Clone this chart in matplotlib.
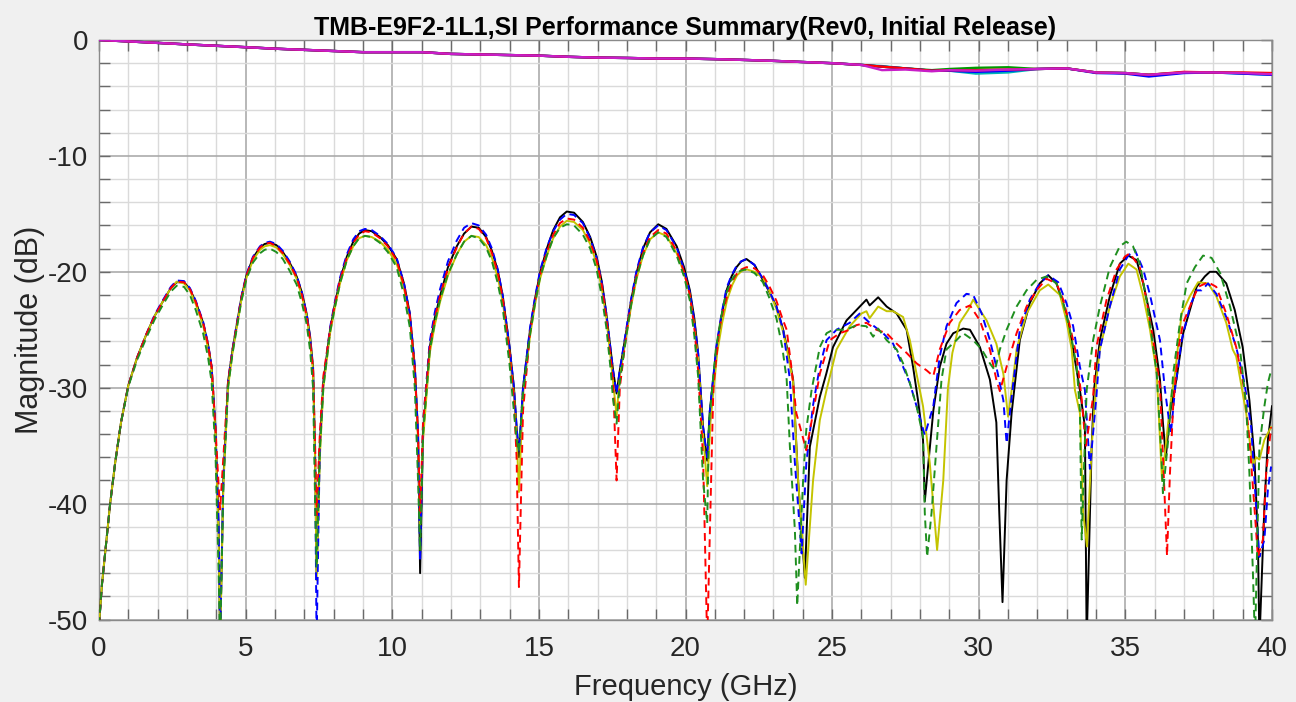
"""S-parameter summary plot: insertion loss and return loss vs frequency."""

import matplotlib as mpl

mpl.use("Agg")
import matplotlib.pyplot as plt
from matplotlib.ticker import MultipleLocator

plt.rcParams["font.family"] = ["Liberation Sans", "DejaVu Sans"]
plt.rcParams["axes.unicode_minus"] = False

TITLE = "TMB-E9F2-1L1,SI Performance Summary(Rev0, Initial Release)"

# ---- insertion loss (near 0 dB) ----
FREQ_IL = [0, 1, 2, 3, 4, 5, 6, 7, 8, 9, 10, 11, 12, 13, 14, 15, 16, 17, 18, 19, 20,
           21, 22, 23, 24, 25, 26, 26.7, 27.5, 28.4, 29, 29.9, 31, 32, 33, 34, 35,
           35.8, 37, 38, 39, 40]
IL_TEAL = [0, -0.12, -0.25, -0.38, -0.5, -0.62, -0.75, -0.85, -0.95, -1.05, -1.05, -1.05,
           -1.2, -1.25, -1.3, -1.35, -1.45, -1.52, -1.55, -1.6, -1.6, -1.65, -1.72, -1.8,
           -1.9, -2.0, -2.15, -2.25, -2.45, -2.65, -2.65, -2.9, -2.8, -2.5, -2.45, -2.8,
           -2.85, -3.0, -2.8, -2.8, -2.9, -3.0]
IL_GREEN = [0, -0.12, -0.25, -0.38, -0.5, -0.62, -0.75, -0.85, -0.95, -1.05, -1.05, -1.05,
            -1.2, -1.25, -1.3, -1.35, -1.45, -1.52, -1.55, -1.6, -1.6, -1.65, -1.72, -1.8,
            -1.9, -2.0, -2.15, -2.3, -2.45, -2.6, -2.5, -2.4, -2.35, -2.5, -2.45, -2.8,
            -2.85, -3.0, -2.8, -2.8, -2.85, -2.9]
IL_BLUE = [0, -0.12, -0.25, -0.38, -0.5, -0.62, -0.75, -0.85, -0.95, -1.05, -1.05, -1.05,
           -1.2, -1.25, -1.3, -1.35, -1.45, -1.52, -1.55, -1.6, -1.6, -1.65, -1.72, -1.8,
           -1.9, -2.0, -2.15, -2.3, -2.45, -2.65, -2.65, -2.75, -2.65, -2.5, -2.45, -2.85,
           -2.9, -3.15, -2.85, -2.8, -2.9, -3.0]
IL_RED = [0, -0.12, -0.25, -0.38, -0.5, -0.62, -0.75, -0.85, -0.95, -1.05, -1.05, -1.05,
          -1.2, -1.25, -1.3, -1.35, -1.45, -1.52, -1.55, -1.6, -1.6, -1.65, -1.72, -1.8,
          -1.9, -2.0, -2.15, -2.3, -2.45, -2.65, -2.6, -2.6, -2.55, -2.5, -2.45, -2.8,
          -2.85, -3.0, -2.75, -2.8, -2.8, -2.85]
IL_MAGENTA = [0, -0.12, -0.25, -0.38, -0.5, -0.62, -0.75, -0.85, -0.95, -1.05, -1.05, -1.05,
              -1.2, -1.25, -1.3, -1.35, -1.45, -1.52, -1.55, -1.6, -1.6, -1.65, -1.72, -1.8,
              -1.9, -2.0, -2.15, -2.6, -2.55, -2.7, -2.6, -2.65, -2.55, -2.5, -2.45, -2.8,
              -2.85, -3.0, -2.8, -2.8, -2.85, -2.95]

# ---- return loss, lobes 1-6 share one frequency list ----
FREQ_LO = [0.0, 0.1, 0.2, 0.38, 0.55, 0.75, 1.0, 1.3, 1.63, 1.9, 2.19, 2.45, 2.65, 2.9, 3.1,
           3.3, 3.55, 3.72, 3.84, 3.97, 4.08, 4.13,
           4.24, 4.4, 4.55, 4.69, 4.85, 5.03, 5.25, 5.49, 5.65, 5.83, 6.05, 6.27, 6.5, 6.74,
           6.92, 7.08, 7.2, 7.3, 7.37, 7.42,
           7.53, 7.65, 7.88, 8.05, 8.22, 8.45, 8.67, 8.87, 9.07, 9.3, 9.58, 9.85, 10.15, 10.4,
           10.6, 10.77, 10.88, 10.95,
           11.05, 11.28, 11.45, 11.63, 11.9, 12.2, 12.45, 12.7, 12.95, 13.2, 13.4, 13.6, 13.77,
           14.0, 14.15, 14.24, 14.32,
           14.46, 14.7, 14.87, 15.04, 15.27, 15.49, 15.72, 15.95, 16.2, 16.5, 16.75, 16.97, 17.15,
           17.3, 17.45, 17.53, 17.65,
           17.76, 17.99, 18.15, 18.33, 18.55, 18.79, 19.07, 19.35, 19.7, 19.95, 20.15, 20.3, 20.43,
           20.6, 20.74]
RL_BLACK_LO = [-50.5, -47.0, -44.5, -40.0, -36.5, -33.0, -29.8, -27.4, -25.3, -23.8, -22.5, -21.4, -20.9, -20.9, -21.5,
               -22.6, -24.4, -26.3, -28.2, -33.4, -42.0, -52.0,
               -38.0, -29.5, -26.8, -24.7, -22.3, -20.3, -18.8, -17.9, -17.6, -17.5, -17.7, -18.3, -19.2, -20.4,
               -21.8, -23.6, -25.6, -28.2, -36.0, -46.0,
               -35.0, -29.5, -25.0, -22.7, -20.7, -18.7, -17.4, -16.7, -16.4, -16.5, -17.0, -17.7, -18.9, -21.0,
               -23.6, -28.2, -34.0, -46.0,
               -34.0, -26.5, -24.0, -22.1, -19.6, -17.8, -16.7, -16.1, -16.2, -17.0, -18.2, -19.9, -22.1,
               -26.5, -30.0, -33.4, -36.0,
               -30.0, -25.0, -22.3, -20.1, -18.0, -16.4, -15.3, -14.8, -14.9, -15.7, -17.0, -18.7, -20.9,
               -23.6, -26.8, -28.5, -30.5,
               -28.5, -25.0, -22.4, -20.1, -18.0, -16.6, -15.9, -16.3, -17.8, -19.6, -21.6, -24.0, -27.0,
               -33.4, -36.3]
RL_BLUE_LO = [-50.5, -47.0, -44.5, -40.0, -36.5, -33.0, -29.8, -27.4, -25.3, -23.7, -22.4, -21.3, -20.75, -20.8, -21.4,
              -22.5, -24.3, -26.2, -28.2, -33.4, -42.0, -52.0,
              -38.0, -29.5, -26.7, -24.6, -22.2, -20.2, -18.7, -17.8, -17.5, -17.4, -17.6, -18.2, -19.1, -20.3,
              -21.8, -23.6, -25.7, -28.5, -37.0, -52.0,
              -35.0, -29.5, -24.8, -22.5, -20.5, -18.5, -17.2, -16.5, -16.3, -16.4, -16.9, -17.6, -18.8, -21.0,
              -23.6, -28.2, -34.0, -45.0,
              -33.0, -26.0, -23.5, -21.5, -19.1, -17.3, -16.2, -15.8, -16.0, -16.8, -18.0, -19.8, -22.1,
              -26.5, -30.0, -33.4, -35.5,
              -30.0, -24.8, -22.2, -19.9, -17.9, -16.5, -15.5, -15.0, -15.1, -15.8, -17.1, -18.8, -21.0,
              -23.6, -26.8, -28.5, -30.5,
              -28.5, -24.8, -22.3, -19.9, -17.9, -16.6, -16.0, -16.4, -17.9, -19.8, -21.8, -24.2, -27.0,
              -33.4, -36.0]
RL_RED_LO = [-50.5, -47.0, -44.5, -40.0, -36.5, -33.0, -29.8, -27.4, -25.3, -23.8, -22.5, -21.4, -20.85, -20.9, -21.5,
             -22.6, -24.4, -26.3, -28.2, -33.4, -38.5, -40.5,
             -36.0, -29.5, -26.8, -24.7, -22.3, -20.3, -18.8, -17.9, -17.6, -17.5, -17.8, -18.4, -19.3, -20.5,
             -22.0, -23.8, -25.9, -28.5, -35.0, -41.0,
             -34.0, -29.0, -25.0, -22.7, -20.7, -18.8, -17.5, -16.8, -16.5, -16.6, -17.1, -17.8, -19.0, -21.2,
             -23.8, -28.5, -34.0, -40.8,
             -33.0, -26.5, -24.0, -22.1, -19.7, -17.9, -16.7, -16.1, -16.3, -17.1, -18.4, -20.1, -22.3,
             -27.0, -31.0, -36.0, -47.2,
             -32.0, -25.2, -22.5, -20.3, -18.3, -16.8, -15.8, -15.4, -15.5, -16.2, -17.4, -19.0, -21.2,
             -24.0, -27.5, -29.5, -38.0,
             -30.0, -25.2, -22.6, -20.3, -18.4, -17.0, -16.4, -16.7, -18.2, -20.0, -22.0, -24.8, -28.5,
             -36.0, -52.0]
RL_YELLOW_LO = [-50.5, -47.0, -44.5, -40.0, -36.5, -33.0, -29.8, -27.4, -25.3, -23.8, -22.5, -21.4, -20.85, -21.0, -21.6,
                -22.8, -24.6, -26.6, -28.5, -33.8, -43.0, -52.0,
                -38.5, -30.0, -27.0, -24.9, -22.5, -20.5, -19.0, -18.1, -17.8, -17.7, -17.9, -18.5, -19.4, -20.6,
                -22.1, -23.8, -25.9, -28.5, -36.5, -46.6,
                -36.0, -30.0, -25.3, -23.0, -21.0, -19.0, -17.8, -17.1, -16.9, -17.0, -17.4, -18.1, -19.3, -21.4,
                -24.0, -28.6, -34.5, -42.0,
                -34.5, -27.0, -24.6, -22.6, -20.3, -18.5, -17.4, -16.9, -17.0, -17.7, -18.8, -20.5, -22.6,
                -27.0, -30.5, -34.0, -39.0,
                -30.5, -25.5, -22.8, -20.6, -18.6, -17.1, -16.1, -15.6, -15.7, -16.4, -17.6, -19.3, -21.5,
                -24.0, -27.5, -29.5, -32.4,
                -29.0, -25.4, -22.9, -20.6, -18.6, -17.2, -16.6, -16.9, -18.4, -20.1, -22.0, -24.6, -27.5,
                -34.0, -38.5]
RL_GREEN_LO = [-50.5, -47.0, -44.5, -40.0, -36.5, -33.0, -29.9, -27.6, -25.6, -24.1, -22.8, -21.7, -21.2, -21.3, -22.0,
               -23.3, -25.3, -27.4, -29.5, -35.5, -46.0, -52.0,
               -38.5, -30.0, -27.1, -25.0, -22.6, -20.6, -19.2, -18.4, -18.1, -18.0, -18.3, -18.9, -19.9, -21.1,
               -22.7, -24.5, -26.8, -30.0, -40.0, -45.5,
               -35.5, -30.0, -25.2, -23.0, -21.0, -19.0, -17.8, -17.1, -16.9, -17.0, -17.5, -18.3, -19.6, -22.0,
               -24.8, -30.0, -38.0, -44.0,
               -34.0, -26.8, -24.4, -22.4, -20.2, -18.5, -17.4, -16.9, -17.1, -17.9, -19.1, -21.0, -23.2,
               -28.0, -32.0, -34.5, -35.5,
               -30.5, -25.4, -22.7, -20.5, -18.6, -17.1, -16.2, -15.9, -16.0, -16.8, -18.0, -19.8, -22.2,
               -24.8, -28.5, -31.0, -33.1,
               -29.5, -25.4, -22.8, -20.5, -18.6, -17.2, -16.6, -17.0, -18.6, -20.4, -22.5, -25.5, -29.0,
               -38.0, -41.7]

# ---- return loss above ~20.8 GHz, each trace read separately ----
FREQ_BLACK_HI = [20.83, 21.06, 21.23, 21.4, 21.57, 21.74, 21.9, 22.08, 22.35, 22.64, 22.85, 23.1, 23.33, 23.5,
                 23.67, 23.84, 24.07,
                 24.24, 24.58, 24.8, 25.03, 25.49, 25.83, 26.17, 26.28, 26.57, 26.86, 27.2, 27.54, 27.76, 27.93, 28.1, 28.16,
                 28.45, 28.67, 28.9, 29.13, 29.47, 29.7, 30.04, 30.38, 30.6, 30.7, 30.81, 30.95, 31.12,
                 31.4, 31.74, 32.08, 32.37, 32.65, 32.99, 33.22, 33.45, 33.62, 33.68, 33.85,
                 33.93, 34.13, 34.47, 34.81, 35.1, 35.38, 35.61, 35.95, 36.18, 36.28, 36.38,
                 36.52, 36.74, 36.97, 37.2, 37.43, 37.71, 37.88, 38.1, 38.44, 38.73, 39.0, 39.23, 39.4, 39.52, 39.57,
                 39.74, 39.86, 40.0]
RL_BLACK_HI = [-32.0, -26.5, -23.8, -21.6, -20.4, -19.6, -19.1, -18.9, -19.4, -20.7, -21.7, -23.0, -25.0, -27.0,
               -29.3, -38.0, -46.4,
               -35.1, -30.8, -28.8, -26.5, -24.2, -23.3, -22.4, -22.9, -22.2, -23.0, -23.6, -25.0, -28.2, -31.1, -34.5, -39.8,
               -32.0, -28.2, -26.2, -25.3, -24.9, -25.0, -26.5, -29.3, -33.0, -40.8, -48.5, -38.0, -32.2,
               -25.9, -22.7, -21.0, -20.3, -21.0, -23.6, -26.7, -30.2, -33.4, -52.0, -35.1,
               -30.2, -25.9, -22.1, -19.3, -18.6, -19.0, -21.0, -25.0, -29.3, -33.0, -36.0,
               -32.2, -29.3, -25.3, -23.3, -21.3, -20.4, -20.0, -20.0, -21.0, -23.3, -26.5, -31.1, -36.0, -43.1, -52.0,
               -40.3, -34.5, -31.6]

FREQ_BLUE_HI = [20.83, 21.06, 21.23, 21.4, 21.57, 21.74, 21.9, 22.08, 22.35, 22.64, 22.85, 23.1, 23.33, 23.56,
                23.73, 23.96,
                24.12, 24.35, 24.58, 24.81, 25.15, 25.6, 25.94, 26.28, 26.74, 27.08, 27.42, 27.65, 27.88, 28.16,
                28.45, 28.67, 28.9, 29.24, 29.58, 29.81, 30.1, 30.38, 30.6, 30.84, 30.95,
                31.12, 31.4, 31.74, 32.08, 32.37, 32.71, 32.99, 33.22, 33.45, 33.62, 33.79,
                34.01, 34.13, 34.47, 34.81, 35.1, 35.32, 35.61, 35.84, 36.18, 36.35, 36.55,
                36.69, 36.92, 37.2, 37.43, 37.6, 37.82, 38.1, 38.44, 38.78, 39.06, 39.29, 39.46, 39.57,
                39.74, 39.86, 39.97]
RL_BLUE_HI = [-32.0, -26.3, -23.6, -21.4, -20.3, -19.5, -19.1, -18.9, -19.4, -20.6, -21.6, -23.0, -25.0, -29.3,
              -36.5, -44.3,
              -36.5, -31.5, -28.2, -25.9, -25.0, -24.4, -23.6, -24.4, -25.3, -26.2, -28.2, -29.6, -31.6, -34.1,
              -31.6, -27.3, -24.7, -22.7, -21.9, -22.0, -23.6, -25.9, -28.2, -31.1, -34.8,
              -30.8, -25.0, -22.4, -21.0, -20.3, -20.9, -22.7, -24.7, -28.2, -30.2, -37.0,
              -30.8, -26.7, -23.0, -19.8, -18.6, -18.1, -19.8, -22.0, -25.9, -30.2, -34.0,
              -30.2, -25.9, -23.0, -21.6, -21.6, -21.0, -21.9, -23.9, -26.5, -29.6, -33.4, -40.3, -44.6,
              -43.1, -38.8, -36.8]

FREQ_RED_HI = [20.95, 21.15, 21.3, 21.45, 21.6, 21.74, 21.9, 22.08, 22.35, 22.64, 22.85, 23.1, 23.3, 23.45,
               23.6, 23.78, 24.12,
               24.35, 24.58, 24.92, 25.26, 25.6, 25.83, 26.17, 26.51, 26.86, 27.2, 27.54, 27.88, 28.22, 28.45,
               28.67, 29.01, 29.35, 29.7, 30.04, 30.38, 30.6, 30.72,
               30.95, 31.29, 31.63, 31.97, 32.31, 32.65, 32.88, 33.11, 33.34, 33.51, 33.65,
               33.9, 34.01, 34.36, 34.7, 34.98, 35.15, 35.49, 35.72, 35.95, 36.18, 36.3, 36.42,
               36.52, 36.63, 36.8, 36.97, 37.2, 37.48, 37.82, 38.1, 38.44, 38.78, 39.06, 39.23, 39.4, 39.52,
               39.69, 39.8, 39.97]
RL_RED_HI = [-30.0, -25.0, -23.2, -21.8, -20.8, -20.2, -19.8, -19.6, -19.7, -20.3, -21.2, -22.5, -24.0, -25.0,
             -28.0, -32.2, -35.4,
             -32.2, -28.8, -25.9, -25.3, -25.0, -24.6, -24.4, -25.0, -25.3, -26.2, -27.0, -27.9, -28.5, -29.0,
             -26.7, -24.4, -23.3, -22.9, -24.2, -26.7, -29.3, -30.3,
             -28.2, -25.3, -23.0, -21.6, -20.6, -21.0, -22.4, -24.7, -27.3, -31.0, -35.1,
             -30.8, -26.5, -22.4, -19.8, -18.7, -18.4, -19.6, -22.4, -25.9, -29.9, -37.0, -44.5,
             -37.4, -31.6, -26.7, -24.4, -23.0, -21.3, -20.9, -21.3, -23.6, -26.5, -30.2, -34.5, -40.3, -44.6,
             -43.1, -37.4, -33.4]

FREQ_YELLOW_HI = [20.85, 21.08, 21.25, 21.42, 21.6, 21.76, 21.93, 22.1, 22.35, 22.64, 22.85, 23.1, 23.33, 23.5,
                  23.67, 23.84, 24.1,
                  24.35, 24.58, 24.81, 25.15, 25.6, 26.0, 26.17, 26.28, 26.57, 26.86, 27.08, 27.42, 27.65, 27.88,
                  28.1, 28.33, 28.58,
                  28.79, 28.95, 29.1, 29.35, 29.64, 29.81, 30.04, 30.27, 30.6, 30.84, 31.0,
                  31.17, 31.29, 31.63, 32.08, 32.37, 32.77, 32.99, 33.17, 33.28, 33.45, 33.56, 33.69,
                  33.85, 34.01, 34.13, 34.47, 34.81, 35.1, 35.38, 35.61, 35.84, 36.07, 36.25,
                  36.52, 36.69, 36.92, 37.2, 37.48, 37.82, 38.1, 38.44, 38.66, 38.78, 39.12, 39.35, 39.46, 39.57,
                  39.74, 39.97]
RL_YELLOW_HI = [-33.0, -27.0, -24.4, -22.4, -21.1, -20.3, -19.9, -19.8, -20.0, -20.5, -21.6, -23.2, -25.2, -27.2,
                -29.5, -38.0, -47.0,
                -38.0, -32.8, -30.2, -26.7, -24.7, -23.6, -23.4, -24.0, -23.0, -23.4, -23.4, -23.9, -25.9, -28.8,
                -31.6, -36.5, -44.0,
                -38.0, -30.0, -27.0, -24.4, -23.3, -22.4, -23.3, -24.2, -26.2, -28.8, -32.5,
                -29.3, -26.7, -23.6, -21.6, -21.1, -22.0, -24.2, -26.7, -30.2, -32.2, -40.8, -43.7,
                -35.1, -29.3, -26.7, -23.0, -20.4, -19.3, -19.8, -22.1, -25.0, -28.8, -38.0,
                -31.6, -28.8, -23.6, -22.1, -20.9, -21.0, -22.1, -24.4, -26.7, -27.3, -32.2, -36.8, -36.0, -36.2,
                -34.5, -33.4]

FREQ_GREEN_HI = [20.8, 21.03, 21.2, 21.37, 21.55, 21.71, 21.88, 22.05, 22.35, 22.64, 22.85, 23.1, 23.3, 23.45,
                 23.56, 23.73, 23.81,
                 24.01, 24.12, 24.3, 24.58, 24.81, 25.03, 25.49, 25.83, 26.17, 26.4, 26.57, 26.86, 27.2, 27.42,
                 27.65, 27.88, 28.1, 28.16, 28.24,
                 28.39, 28.56, 28.73, 28.9, 29.24, 29.47, 29.81, 30.1, 30.38, 30.55,
                 30.72, 30.95, 31.29, 31.63, 31.97, 32.31, 32.65, 32.88, 33.11, 33.34, 33.45, 33.51,
                 33.6, 33.68, 33.9, 34.13, 34.47, 34.81, 35.03, 35.26, 35.49, 35.72, 35.95, 36.07, 36.23, 36.28,
                 36.46, 36.63, 36.86, 37.09, 37.37, 37.65, 37.94, 38.23, 38.57, 38.91, 39.12, 39.23, 39.35, 39.42,
                 39.57, 39.74, 39.86, 39.97]
RL_GREEN_HI = [-33.0, -26.8, -24.1, -22.0, -20.8, -20.2, -19.9, -19.8, -20.1, -20.9, -22.2, -24.0, -26.5, -29.3,
               -35.1, -42.3, -48.8,
               -38.0, -33.6, -30.2, -26.5, -25.3, -25.0, -25.0, -24.6, -24.7, -25.6, -24.9, -25.9, -26.7, -27.9,
               -29.6, -31.6, -34.2, -40.8, -44.6,
               -40.8, -35.1, -29.3, -26.7, -25.9, -25.3, -25.9, -26.7, -27.9, -28.5,
               -26.7, -25.0, -23.0, -21.6, -20.7, -20.4, -21.0, -22.7, -25.0, -28.2, -32.0, -43.1,
               -36.0, -30.2, -25.9, -23.0, -19.6, -17.8, -17.4, -17.8, -19.3, -22.4, -26.5, -28.8, -36.0, -39.1,
               -34.5, -28.8, -24.4, -21.0, -19.6, -18.6, -18.8, -20.1, -23.0, -26.7, -31.6, -37.4, -46.0, -52.0,
               -35.1, -31.6, -29.6, -28.5]


def main(out_path: str = "out.png") -> None:
    fig = plt.figure(figsize=(12.96, 7.02), dpi=100, facecolor="#f0f0f0")
    ax = fig.add_axes([99 / 1296, 1 - 619.5 / 702, 1173 / 1296, 579.5 / 702])
    ax.set_facecolor("white")

    # insertion loss traces
    il_traces = [
        (IL_TEAL, "#00b4b4"),
        (IL_GREEN, "#009a00"),
        (IL_BLUE, "#0000ff"),
        (IL_RED, "#ff0000"),
        (IL_MAGENTA, "#c81ec8"),
    ]
    for vals, color in il_traces:
        ax.plot(FREQ_IL, vals, color=color, linewidth=1.7, zorder=3)

    # return loss traces
    rl_traces = [
        (FREQ_LO + FREQ_BLACK_HI, RL_BLACK_LO + RL_BLACK_HI, "#000000", "-"),
        (FREQ_LO + FREQ_YELLOW_HI, RL_YELLOW_LO + RL_YELLOW_HI, "#c4c400", "-"),
        (FREQ_LO + FREQ_BLUE_HI, RL_BLUE_LO + RL_BLUE_HI, "#0000ff", "--"),
        (FREQ_LO + FREQ_RED_HI, RL_RED_LO + RL_RED_HI, "#ff0000", "--"),
        (FREQ_LO + FREQ_GREEN_HI, RL_GREEN_LO + RL_GREEN_HI, "#1f8f1f", "--"),
    ]
    for freq, vals, color, ls in rl_traces:
        line, = ax.plot(freq, vals, color=color, linestyle=ls, linewidth=1.4, zorder=3)
        if ls == "--":
            line.set_dashes((4, 2.6))

    ax.set_xlim(0, 40)
    ax.set_ylim(-50, 0)
    ax.xaxis.set_major_locator(MultipleLocator(5))
    ax.xaxis.set_minor_locator(MultipleLocator(1))
    ax.yaxis.set_major_locator(MultipleLocator(10))
    ax.yaxis.set_minor_locator(MultipleLocator(2))

    ax.set_axisbelow(True)
    ax.grid(which="major", color="#ababab", linewidth=1.2)
    ax.grid(which="minor", color="#dadada", linewidth=1.0)
    ax.tick_params(which="both", direction="in", length=8, width=1.0, color="#6a6a6a",
                   top=True, right=True)
    ax.tick_params(which="major", labelsize=20, labelcolor="#262626", pad=8)
    ax.tick_params(axis="x", which="major", pad=12)
    for spine in ax.spines.values():
        spine.set_color("#8a8a8a")
        spine.set_linewidth(1.0)

    ax.set_title(TITLE, fontsize=18, fontweight="bold", pad=2)
    ax.set_xlabel("Frequency (GHz)", fontsize=21, color="#262626")
    ax.set_ylabel("Magnitude (dB)", fontsize=22, color="#262626")
    ax.xaxis.set_label_coords(0.5, -0.093)
    ax.yaxis.set_label_coords(-0.046, 0.5)

    fig.savefig(out_path, dpi=100, facecolor=fig.get_facecolor())
    plt.close(fig)


if __name__ == "__main__":
    main()
